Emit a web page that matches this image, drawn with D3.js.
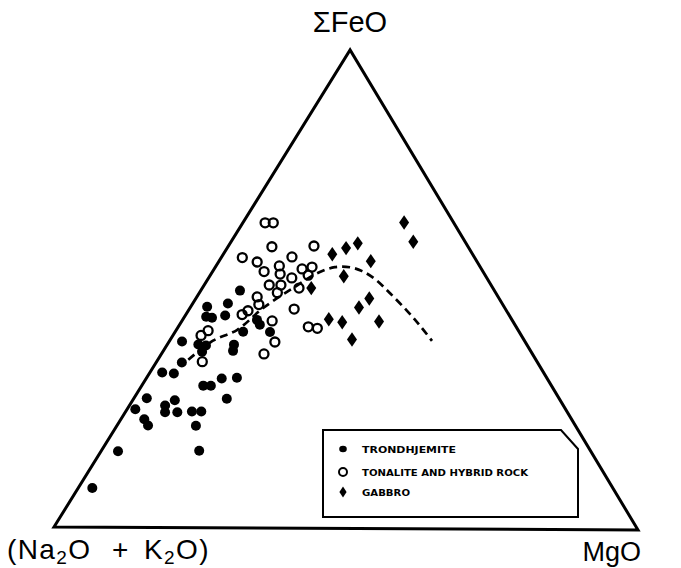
<!DOCTYPE html>
<html>
<head>
<meta charset="utf-8">
<script src="https://cdn.jsdelivr.net/npm/d3@7"></script>
<style>
  html, body { margin: 0; padding: 0; background: #fff; }
  svg { display: block; }
</style>
</head>
<body>
<svg id="chart" width="681" height="568"></svg>
<script>
// ---- Data: [ΣFeO %, MgO %]; (Na2O + K2O) % = 100 - FeO - MgO ----
const trondhjemite = [
  [8.2,2.4],[15.9,2.9],[16.1,16.7],[24.7,1.4],[22.6,4.0],[21.3,5.3],[27.0,2.2],
  [25.5,6.1],[26.6,7.2],[24.1,6.8],[24.1,8.9],[24.3,11.3],[24.3,12.9],[21.3,13.5],
  [27.0,15.9],[32.4,2.1],[32.2,4.2],[34.5,4.4],[29.7,10.5],[29.7,11.8],[31.2,12.9],
  [31.4,15.4],[38.9,2.2],[38.3,5.3],[38.1,6.7],[36.8,6.7],[38.3,11.4],[37.0,11.9],
  [41.0,11.6],[46.2,2.8],[46.9,6.0],[49.6,6.7],[44.1,3.7],[43.9,4.8],[44.4,6.8],
  [43.5,12.7],[42.5,13.7],[41.0,16.2]
];
const tonaliteHybrid = [
  [63.8,3.8],[63.8,5.2],[58.8,7.5],[59.0,14.6],[56.5,3.6],[55.6,6.6],[53.6,8.8],
  [54.8,10.8],[56.7,12.0],[53.1,11.8],[54.2,15.0],[54.6,16.5],[52.9,16.7],[52.3,14.2],
  [50.8,11.1],[50.8,13.1],[50.2,16.5],[49.2,13.3],[48.3,10.3],[46.7,11.4],[45.4,10.2],
  [44.6,9.6],[43.3,15.4],[45.8,17.9],[42.1,22.2],[41.8,23.9],[38.9,18.1],[36.4,17.5],
  [41.2,5.5],[40.2,4.8],[34.7,7.8]
];
const gabbro = [
  [64.0,27.5],[60.0,31.1],[57.3,18.6],[58.6,20.3],[59.6,21.8],[55.9,25.9],[52.7,22.9],
  [48.1,29.6],[46.2,28.8],[43.7,24.9],[43.1,27.5],[43.3,33.7],[39.5,31.0],[50.2,18.6]
];
const trendLine = [
  [35.1,5.2],[39.1,7.4],[41.4,10.4],[46.0,12.5],[50.2,15.5],[53.3,18.0],[54.6,20.4],
  [54.6,23.0],[53.8,25.5],[52.1,28.6],[49.2,32.6],[45.6,37.3],[42.5,41.1],[39.3,44.8]
];
const legendLabels = ["TRONDHJEMITE", "TONALITE AND HYBRID ROCK", "GABBRO"];
const legendWidths = [94, 166, 48];

// ---- Scales / ternary projection ----
const svg = d3.select("#chart");
svg.append("rect").attr("width", 681).attr("height", 568).attr("fill", "#fff");

const xS = d3.scaleLinear().domain([0, 100]).range([54, 638]);
const yS = d3.scaleLinear().domain([0, 100]).range([527, 50]);
const apexShift = 0.507;
function proj(d) {
  const f = d[0], m = d[1];
  return [xS(m + f * apexShift), yS(f) + 3 * m / 100];
}

// Triangle frame: (Na2O+K2O) corner, ΣFeO apex, MgO corner
const A = proj([0, 0]), F = proj([100, 0]), M = proj([0, 100]);
svg.append("path")
  .attr("d", d3.line()([A, F, M]) + "Z")
  .attr("fill", "none").attr("stroke", "#000")
  .attr("stroke-width", 3).attr("stroke-linejoin", "miter");

// Dashed trend
svg.append("path")
  .attr("d", d3.line().curve(d3.curveCatmullRom.alpha(0.5))(trendLine.map(proj)))
  .attr("fill", "none").attr("stroke", "#000")
  .attr("stroke-width", 2.7).attr("stroke-dasharray", "8,5");

// Points
const g = svg.append("g");
g.selectAll("circle.tr").data(trondhjemite).join("circle")
  .attr("class", "tr")
  .attr("cx", d => proj(d)[0]).attr("cy", d => proj(d)[1])
  .attr("r", 5).attr("fill", "#000");

g.selectAll("circle.to").data(tonaliteHybrid).join("circle")
  .attr("class", "to")
  .attr("cx", d => proj(d)[0]).attr("cy", d => proj(d)[1])
  .attr("r", 4.5).attr("fill", "none").attr("stroke", "#000").attr("stroke-width", 2.3);

const diamond = "M0,-7.2L5,0L0,7.2L-5,0Z";
g.selectAll("path.ga").data(gabbro).join("path")
  .attr("class", "ga")
  .attr("d", diamond)
  .attr("transform", d => `translate(${proj(d)[0]},${proj(d)[1]})`)
  .attr("fill", "#000");

// Vertex labels
const fontFam = "'Liberation Sans', Arial, Helvetica, sans-serif";
svg.append("text").attr("x", 350).attr("y", 32)
  .attr("text-anchor", "middle").attr("font-family", fontFam)
  .attr("font-size", 29).text("ΣFeO");

const alk = svg.append("text").attr("y", 559)
  .attr("font-family", fontFam).attr("font-size", 28)
  .attr("letter-spacing", 1.4);
alk.append("tspan").attr("x", 7).text("(Na");
alk.append("tspan").attr("font-size", 19).attr("dy", 5).text("2");
alk.append("tspan").attr("dy", -5).text("O");
alk.append("tspan").attr("x", 112).text("+");
alk.append("tspan").attr("x", 144).text("K");
alk.append("tspan").attr("font-size", 19).attr("dy", 5).text("2");
alk.append("tspan").attr("dy", -5).text("O)");

svg.append("text").attr("x", 641).attr("y", 561)
  .attr("text-anchor", "end").attr("font-family", fontFam)
  .attr("font-size", 27).text("MgO");

// Legend
const lg = svg.append("g");
lg.append("path")
  .attr("d", "M323,430L561,430L578,449L578,517L323,517Z")
  .attr("fill", "#fff").attr("stroke", "#000").attr("stroke-width", 2);
const rowY = [449, 472, 492];
lg.append("ellipse").attr("cx", 343).attr("cy", rowY[0]).attr("rx", 3.8).attr("ry", 3.2)
  .attr("fill", "#000");
lg.append("circle").attr("cx", 343).attr("cy", rowY[1]).attr("r", 4)
  .attr("fill", "none").attr("stroke", "#000").attr("stroke-width", 2);
lg.append("path").attr("d", "M0,-5.5L3.6,0L0,5.5L-3.6,0Z")
  .attr("transform", `translate(343,${rowY[2]})`).attr("fill", "#000");
lg.selectAll("text").data(legendLabels).join("text")
  .attr("x", 362).attr("y", (d, i) => rowY[i] + 3.5)
  .attr("font-family", "'DejaVu Sans Condensed', 'DejaVu Sans', sans-serif")
  .attr("font-weight", "bold").attr("font-size", 9.5)
  .attr("textLength", (d, i) => legendWidths[i]).attr("lengthAdjust", "spacingAndGlyphs")
  .text(d => d);
</script>
</body>
</html>
